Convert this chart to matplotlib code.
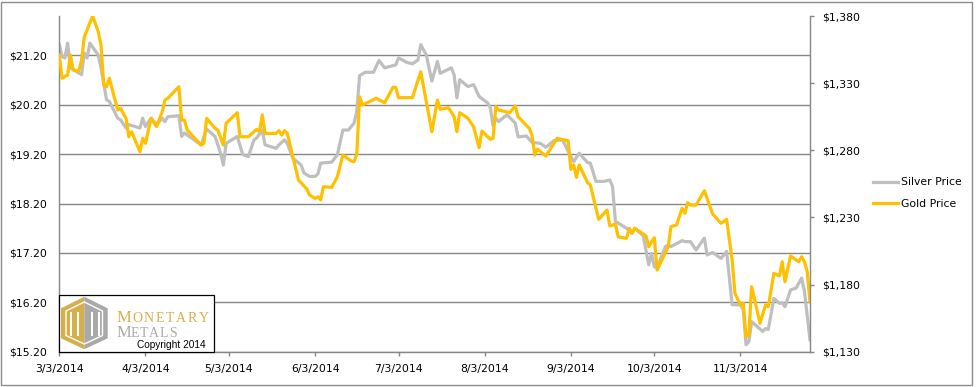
import matplotlib
matplotlib.use("Agg")
import matplotlib.pyplot as plt
from matplotlib.patches import Rectangle, Polygon
from matplotlib.lines import Line2D
import pandas as pd

START = "2014-03-03"

silver_day = [0, 1, 2, 3, 4, 8, 9, 10, 11, 14, 15, 17, 18, 21, 22, 24, 25, 29, 30, 31, 33, 35, 37, 38, 39,
              43, 44, 45, 46, 51, 53, 56, 58, 59, 60, 64, 66, 68, 70, 71, 73, 74, 78, 79, 81, 82, 84, 87,
              88, 90, 92, 93, 94, 98, 100, 102, 104, 106, 107, 108, 110, 113, 115, 117, 121, 122, 125,
              127, 129, 130, 132, 134, 136, 137, 141, 142, 143, 144, 147, 149, 151, 154, 155, 156, 157,
              158, 161, 164, 165, 168, 170, 173, 175, 178, 181, 184, 185, 187, 190, 191, 193, 196, 198,
              199, 200, 204, 206, 207, 210, 212, 213, 214, 215, 218, 219, 220, 224, 225, 227, 229, 232,
              233, 235, 238, 240, 242, 245, 246, 247, 248, 249, 253, 254, 255, 257, 259, 260, 261, 263,
              265, 267, 268, 270]
silver_price = [21.42, 21.18, 21.15, 21.45, 20.95, 20.81, 21.25, 21.15, 21.45, 21.21, 20.95, 20.30, 20.27,
                19.93, 19.90, 19.73, 19.80, 19.73, 19.93, 19.76, 19.93, 19.80, 19.93, 19.86, 19.96,
                19.98, 19.56, 19.63, 19.59, 19.39, 19.71, 19.56, 19.22, 18.98, 19.42, 19.56, 19.19,
                19.15, 19.49, 19.53, 19.69, 19.39, 19.32, 19.39, 19.49, 19.42, 19.12, 18.98, 18.82,
                18.75, 18.75, 18.80, 19.02, 19.04, 19.19, 19.69, 19.69, 19.83, 20.07, 20.79, 20.86,
                20.86, 21.10, 20.95, 21.01, 21.15, 21.06, 21.03, 21.11, 21.42, 21.21, 20.68, 21.08,
                20.84, 20.95, 20.81, 20.34, 20.71, 20.57, 20.61, 20.37, 20.24, 20.15, 19.78, 19.93,
                19.86, 20.00, 19.83, 19.55, 19.57, 19.44, 19.42, 19.34, 19.48, 19.49, 19.15, 19.05,
                19.22, 19.03, 19.02, 18.65, 18.65, 18.68, 18.54, 17.84, 17.70, 17.60, 17.70, 17.55,
                16.96, 17.19, 16.92, 16.90, 17.33, 17.36, 17.33, 17.45, 17.43, 17.43, 17.26, 17.50,
                17.16, 17.21, 17.09, 17.23, 16.15, 16.15, 16.05, 15.34, 15.40, 15.81, 15.61, 15.67,
                15.65, 16.28, 16.18, 16.19, 16.11, 16.45, 16.49, 16.69, 16.42, 15.44]

gold_day = [0, 1, 3, 4, 5, 7, 8, 9, 10, 12, 14, 15, 16, 17, 18, 21, 22, 24, 25, 26, 29, 30, 31, 33, 35, 37,
            38, 39, 43, 44, 45, 46, 51, 52, 53, 56, 57, 59, 60, 64, 65, 68, 71, 72, 73, 74, 78, 79, 80,
            81, 82, 86, 89, 90, 92, 93, 94, 95, 98, 100, 102, 105, 106, 107, 108, 109, 114, 117, 120,
            121, 122, 127, 130, 134, 136, 137, 140, 142, 143, 144, 147, 149, 151, 152, 155, 156, 157,
            158, 162, 164, 165, 169, 170, 171, 172, 175, 179, 183, 184, 185, 186, 187, 190, 191, 194,
            197, 198, 200, 201, 204, 205, 206, 207, 211, 212, 214, 215, 219, 220, 222, 224, 225, 226,
            227, 229, 232, 235, 238, 240, 242, 243, 245, 246, 247, 248, 249, 250, 252, 254, 255, 257,
            259, 260, 261, 263, 266, 267, 268, 269, 270]
gold_price = [1350.9, 1333.6, 1336.1, 1350.9, 1339.8, 1339.0, 1347.2, 1364.6, 1369.6, 1380.0, 1368.3,
              1358.4, 1328.6, 1327.3, 1333.6, 1310.0, 1311.3, 1303.8, 1290.1, 1293.8, 1278.9, 1288.9,
              1285.2, 1303.8, 1297.6, 1308.7, 1317.4, 1318.7, 1327.3, 1302.5, 1302.5, 1295.1, 1283.9,
              1285.2, 1303.8, 1296.4, 1295.1, 1283.9, 1300.1, 1308.0, 1290.1, 1290.1, 1295.6, 1293.8,
              1306.3, 1292.6, 1292.6, 1294.6, 1291.4, 1294.6, 1292.6, 1257.9, 1251.2, 1246.7, 1244.2,
              1245.4, 1243.0, 1252.9, 1252.4, 1260.3, 1276.5, 1272.0, 1271.5, 1277.2, 1319.9, 1313.7,
              1318.7, 1315.4, 1326.9, 1326.9, 1319.2, 1319.2, 1338.5, 1293.8, 1317.4, 1310.5, 1311.7,
              1305.0, 1293.8, 1308.0, 1303.8, 1297.6, 1281.9, 1294.4, 1288.2, 1288.9, 1312.5, 1310.0,
              1308.0, 1313.0, 1305.0, 1296.4, 1291.4, 1276.5, 1280.7, 1275.7, 1288.9, 1287.1, 1265.8,
              1269.0, 1259.9, 1269.0, 1255.9, 1254.1, 1228.6, 1235.5, 1223.6, 1225.1, 1215.6, 1214.4,
              1221.9, 1218.2, 1221.9, 1216.2, 1208.2, 1214.9, 1190.8, 1208.2, 1223.1, 1224.4, 1236.8,
              1233.1, 1241.0, 1239.2, 1239.2, 1249.9, 1232.5, 1225.6, 1228.6, 1198.3, 1173.5, 1164.8,
              1166.0, 1141.2, 1142.4, 1178.4, 1169.8, 1151.1, 1164.8, 1163.5, 1188.4, 1186.4, 1197.0,
              1182.1, 1201.3, 1197.0, 1200.7, 1197.0, 1189.6, 1167.2]

x_tick_labels = ["3/3/2014", "4/3/2014", "5/3/2014", "6/3/2014", "7/3/2014", "8/3/2014",
                 "9/3/2014", "10/3/2014", "11/3/2014"]
silver_ticks = [15.20, 16.20, 17.20, 18.20, 19.20, 20.20, 21.20]
gold_ticks = [1130, 1180, 1230, 1280, 1330, 1380]
series_names = ["Silver Price", "Gold Price"]

start = pd.Timestamp(START)
silver_dates = start + pd.to_timedelta(silver_day, unit="D")
gold_dates = start + pd.to_timedelta(gold_day, unit="D")
x_ticks = pd.to_datetime(x_tick_labels, format="%m/%d/%Y")

W, H = 978, 387
plt.rcParams['font.family'] = ['DejaVu Sans']
fig = plt.figure(figsize=(W / 100, H / 100), dpi=100)

SILVER = "#BFBFBF"
GOLD = "#FFC000"
AXC = "#868686"
FS = 7.8

def fx(x):
    return x / W

def fy(y):
    return 1 - y / H

left, right, top, bottom = 59.3, 810, 16, 351.7
ax = fig.add_axes([fx(left), fy(bottom), fx(right - left), (bottom - top) / H])
ax2 = ax.twinx()

ax.plot(silver_dates, silver_price, color=SILVER, lw=2.3, solid_joinstyle="round")
ax2.plot(gold_dates, gold_price, color=GOLD, lw=2.3, solid_joinstyle="round")

ax.set_xlim(start, start + pd.Timedelta(days=270))
ax.set_ylim(15.2, 22.0)
ax2.set_ylim(1130, 1380)

ax.set_yticks(silver_ticks)
ax.set_yticklabels([f"${v:.2f}" for v in silver_ticks])
ax2.set_yticks(gold_ticks)
ax2.set_yticklabels([f"${v:,.0f}" for v in gold_ticks])
ax.set_xticks(x_ticks)
ax.set_xticklabels(x_tick_labels)

ax.yaxis.grid(True, color=AXC, lw=1.0)
ax.set_axisbelow(True)

for a in (ax, ax2):
    for s in a.spines.values():
        s.set_visible(False)
ax.spines["left"].set_visible(True)
ax.spines["bottom"].set_visible(True)
ax2.spines["right"].set_visible(True)
for s in (ax.spines["left"], ax.spines["bottom"], ax2.spines["right"]):
    s.set_color(AXC)
    s.set_linewidth(1.0)

ax.tick_params(axis="y", length=0, pad=9, labelsize=FS, labelcolor="#000000")
ax.tick_params(axis="x", length=3, width=1, color=AXC, pad=6, labelsize=FS, labelcolor="#000000")
ax2.tick_params(axis="y", length=3, width=1, color=AXC, pad=6, labelsize=FS, labelcolor="#000000")

# legend
handles = [Line2D([], [], color=SILVER, lw=2.3), Line2D([], [], color=GOLD, lw=2.3)]
fig.legend(handles, series_names, loc="center left", bbox_to_anchor=(fx(873), fy(193)),
           frameon=False, fontsize=FS, handlelength=2.3, handletextpad=0.25,
           labelspacing=1.05, borderpad=0, borderaxespad=0)

# outer chart border
fig.add_artist(Rectangle((fx(1.5), fy(385)), fx(972 - 1.5), (385 - 1.5) / H,
                         transform=fig.transFigure, fill=False, edgecolor="#8C8C8C", lw=1.0))

# logo box
fig.add_artist(Rectangle((fx(59.3), fy(351.7)), fx(214.3 - 59.3), (351.7 - 295.3) / H,
                         transform=fig.transFigure, facecolor="white", edgecolor="black",
                         lw=0.9, zorder=5))
LG = "#D4AF4B"
LGR = "#A9A9A9"
def P(pts):
    return [(fx(a), fy(b)) for a, b in pts]
fig.add_artist(Polygon(P([(84.3, 296.7), (61, 308.3), (61, 338.3), (84.3, 349.3)]), closed=True,
                       transform=fig.transFigure, facecolor=LG, edgecolor="none", zorder=6))
fig.add_artist(Polygon(P([(84.3, 296.7), (107.7, 308.3), (107.7, 338.3), (84.3, 349.3)]), closed=True,
                       transform=fig.transFigure, facecolor=LGR, edgecolor="none", zorder=6))
fig.add_artist(Polygon(P([(84.3, 302), (102.5, 311), (102.5, 335.5), (84.3, 344), (66, 335.5), (66, 311)]),
                       closed=True, transform=fig.transFigure, facecolor="none", edgecolor="white",
                       lw=1.0, zorder=7))
for bx in (70, 77, 91, 98):
    fig.add_artist(Rectangle((fx(bx), fy(336)), fx(2.2), 24 / H, transform=fig.transFigure,
                             facecolor="white", edgecolor="none", zorder=7))

serif = "Liberation Serif"
mon_letters = "MONETARY"
mon_x = [124, 137, 149, 160, 170, 181, 192, 204]
for i, (ch, xc) in enumerate(zip(mon_letters, mon_x)):
    fig.text(fx(xc), fy(321.7), ch, ha="center", va="baseline", family=serif,
             fontsize=12 if i == 0 else 10, color=LG, zorder=8)
met_letters = "METALS"
met_x = [124, 135, 144.5, 154, 163.5, 173]
for i, (ch, xc) in enumerate(zip(met_letters, met_x)):
    fig.text(fx(xc), fy(336.7), ch, ha="center", va="baseline", family=serif,
             fontsize=12 if i == 0 else 10, color=LGR, zorder=8)
fig.text(fx(137), fy(347.5), "Copyright 2014", ha="left", va="baseline", family="Liberation Sans",
         fontsize=7.3, color="black", zorder=8)

fig.savefig("out.png", dpi=100)
